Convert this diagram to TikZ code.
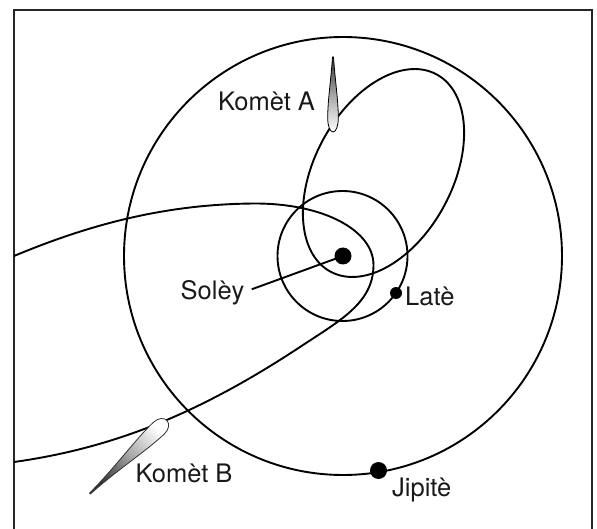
\documentclass[tikz,border=0pt]{standalone}
\usepackage{fontspec}
\setmainfont{TeX Gyre Heros}
\begin{document}
\begin{tikzpicture}[x=1pt,y=-1pt,
  orbit/.style={line width=1.9pt, draw=black},
  frameline/.style={line width=2.5pt, draw=black!85},
  body/.style={circle, fill=black, draw=none, inner sep=0pt},
  lbl/.style={anchor=base west, inner sep=0pt, font=\fontsize{25.5}{30}\selectfont, text=black!90},
  cometA/.style={draw=black, line width=0.8pt, top color=black!80, bottom color=white, middle color=black!35},
  cometB/.style={draw=black!80, line width=0.8pt, shading=axis, bottom color=black!80, top color=white, middle color=black!35, shading angle=-45}]
\useasboundingbox (0,0) rectangle (597,529);
% frame
\draw[frameline] (14,535) -- (14,10) -- (592,10) -- (592,535);
% orbits
\draw[orbit] (343,256) circle[radius=219];
\draw[orbit] (342.5,256) circle[radius=65];
\draw[orbit] (383.5,173) ellipse[x radius=112, y radius=69, rotate=61.8];
\draw[orbit] (14,256) .. controls (100,220) and (175,204) .. (255,203.5)
  .. controls (325,203.5) and (373.5,231) .. (373.5,265)
  .. controls (373.5,303) and (340,320.5) .. (300,347)
  .. controls (200,413) and (114,448) .. (14,462);
% bodies
\node[body, minimum size=17pt] (sun) at (343,256) {};
\node[body, minimum size=12pt] (earth) at (396,293) {};
\node[body, minimum size=17pt] (jup) at (378.5,470.5) {};
% comets
\path[cometA] (332.5,57) -- (333.5,57) .. controls (335,80) and (338.3,100) .. (338.3,118)
  .. controls (338.3,126) and (336,132) .. (333,132)
  .. controls (330,132) and (327.7,126) .. (327.7,118)
  .. controls (327.7,100) and (331,80) .. (332.5,57) -- cycle;
\begin{scope}[shift={(90,493.5)}, rotate=43.5]
\path[cometB] (0,-0.6) -- (0,0.6) .. controls (35,1.5) and (70,8) .. (95,8)
  .. controls (102,8) and (106,4) .. (106,0)
  .. controls (106,-4) and (102,-8) .. (95,-8)
  .. controls (70,-8) and (35,-1.5) .. (0,-0.6) -- cycle;
\end{scope}
% labels
\node[lbl] (lA) at (218,110.7) {Komèt A};
\node[lbl] (lS) at (180.5,299.5) {Solèy};
\node[lbl] (lL) at (405,305.5) {Latè};
\node[lbl] (lB) at (135.5,482.7) {Komèt B};
\node[lbl] (lJ) at (392,496) {Jipitè};
\coordinate (lead) at (251.7,289.3);
\draw[line width=1.9pt] (lead) -- (sun.center);
\end{tikzpicture}
\end{document}
